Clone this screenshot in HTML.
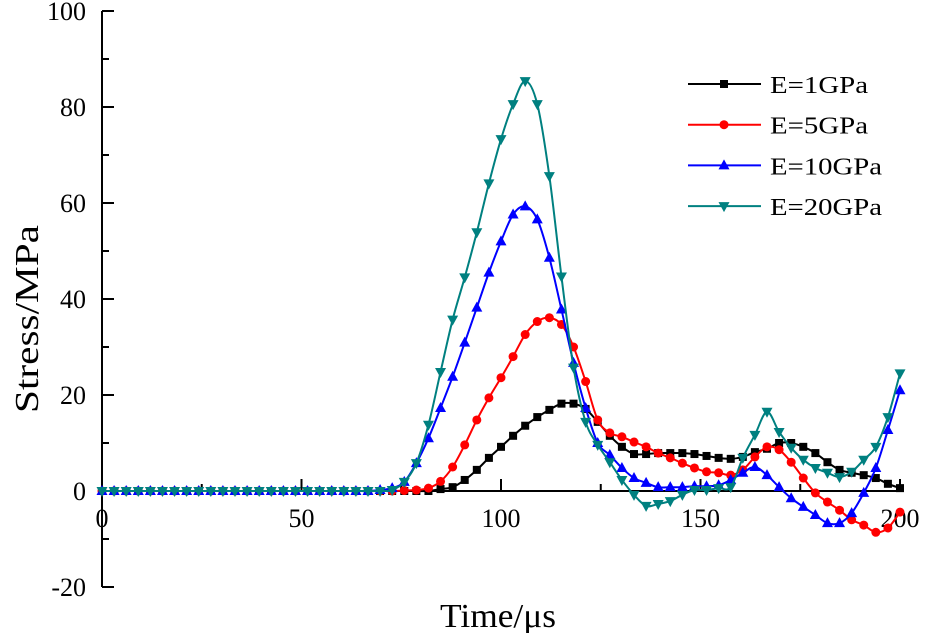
<!DOCTYPE html>
<html><head><meta charset="utf-8"><style>
body{margin:0;background:#fff}
svg{display:block}
text{font-family:"Liberation Serif","DejaVu Serif",serif}
</style></head><body>
<svg id="chart" width="925" height="633" viewBox="0 0 925 633">
<g id="axes"></g>
<g id="series"></g>
<g id="legend"></g>
<text x="38" y="319" font-size="34" text-anchor="middle" textLength="188" lengthAdjust="spacingAndGlyphs" transform="rotate(-90 38 319)">Stress/MPa</text>
<text x="498" y="627" font-size="34" text-anchor="middle" textLength="116" lengthAdjust="spacingAndGlyphs">Time/μs</text>
</svg>
<script>
const xTicks=[0,50,100,150,200];
const yTicks=[-20,0,20,40,60,80,100];
const seriesNames=["E=1GPa","E=5GPa","E=10GPa","E=20GPa"];
const nPoints=67;
const zeros23=[0,0,0,0,0,0,0,0,0,0,0,0,0,0,0,0,0,0,0,0,0,0,0];
const e1=zeros23.concat([0,0,0,0,0,0.4,0.8,2.3,4.4,6.9,9.2,11.5,13.6,15.4,16.9,18.2,18.2,17.1,14.4,11.5,9.2,7.7,7.7,7.9,7.9,7.9,7.7,7.3,6.9,6.7,7.1,8.1,8.8,10,10,9.2,7.9,6,4.4,3.8,3.3,2.7,1.5,0.6]);
const e5=zeros23.concat([0,0,0.1,0.2,0.6,2,5,9.6,14.8,19.4,23.6,28,32.6,35.3,36.1,34.7,30,22.8,14.8,12.1,11.3,10.2,9.2,7.9,6.9,5.8,4.8,4,3.8,3.3,4.4,7.1,9.2,8.6,6,2.7,-0.4,-2.3,-4,-6,-7.1,-8.6,-7.7,-4.4]);
const e10=zeros23.concat([0.2,0.6,1.9,5.8,11,17.3,23.8,30.9,38.2,45.5,52,57.6,59.3,56.6,48.6,37.8,26.7,17.3,10,7.5,4.8,2.7,1.7,0.8,0.8,0.8,1,1,1.2,2.3,3.8,5,3.3,0.8,-1.5,-3.3,-5,-6.7,-6.7,-4.6,-0.4,4.8,12.7,21]);
const e20=zeros23.concat([0,0.2,1.9,5.8,13.8,24.8,35.7,44.5,53.9,64.1,73.3,80.6,85.4,80.6,65.6,44.7,25.7,14.4,9.6,6,2.3,-0.8,-3.1,-2.7,-2.1,-0.8,0.2,0.2,0.6,0.8,6.9,11.7,16.5,12.3,9,6.5,4.8,3.8,2.9,4,6.5,9.2,15.4,24.5]);
const times=[];for(let k=0;k<nPoints;k++)times.push(k*200/(nPoints-1));
const NS="http://www.w3.org/2000/svg";
const X=t=>102+t*(900-102)/200;
const Y=v=>491-v*4.8;
function mk(tag,attrs,parent){const e=document.createElementNS(NS,tag);for(const k in attrs)e.setAttribute(k,attrs[k]);parent.appendChild(e);return e;}
const axes=document.getElementById('axes');
let el=mk('line',{x1:102,y1:Y(-20),x2:102,y2:Y(100),stroke:'#000','stroke-width':2},axes);

el=mk('line',{x1:102,y1:Y(0),x2:902,y2:Y(0),stroke:'#000','stroke-width':2},axes);

for(let v=-20;v<=100;v+=10){const major=v%20===0;
el=mk('line',{x1:102,y1:Y(v),x2:102+(major?12:7),y2:Y(v),stroke:'#000','stroke-width':2},axes);
}
yTicks.forEach(v=>{el=mk('text',{x:86,y:Y(v)+9,'font-size':26,'text-anchor':'end'},axes);el.textContent=v;
});
for(let t=0;t<=200;t+=25){const major=t%50===0;
el=mk('line',{x1:X(t),y1:Y(0),x2:X(t),y2:Y(0)-(major?12:7),stroke:'#000','stroke-width':2},axes);
}
xTicks.forEach(t=>{el=mk('text',{x:X(t),y:527,'font-size':26,'text-anchor':'middle'},axes);el.textContent=t;
});
const colors=['#000000','#ff0000','#0000ff','#008080'];
const shapes=['square','circle','up','down'];
const data=[e1,e5,e10,e20];
function marker(shape,x,y,c,parent){let m;
if(shape==='square')m=mk('rect',{x:x-4,y:y-4,width:8,height:8,fill:c},parent);
else if(shape==='circle')m=mk('circle',{cx:x,cy:y,r:4.5,fill:c},parent);
else if(shape==='up')m=mk('polygon',{points:`${x},${y-6} ${x-5.5},${y+4} ${x+5.5},${y+4}`,fill:c},parent);
else m=mk('polygon',{points:`${x-5.5},${y-4} ${x+5.5},${y-4} ${x},${y+6}`,fill:c},parent);
return m;}
const sg=document.getElementById('series');
data.forEach((vals,i)=>{
const g=mk('g',{},sg);


const pts=vals.map((v,k)=>[X(times[k]),Y(v)]);
let d=`M${pts[0][0]},${pts[0][1]}`;
for(let k=0;k<pts.length-1;k++){const p0=pts[Math.max(0,k-1)],p1=pts[k],p2=pts[k+1],p3=pts[Math.min(pts.length-1,k+2)];
d+=` C${p1[0]+(p2[0]-p0[0])/6},${p1[1]+(p2[1]-p0[1])/6} ${p2[0]-(p3[0]-p1[0])/6},${p2[1]-(p3[1]-p1[1])/6} ${p2[0]},${p2[1]}`;}
const line=mk('path',{d:d,fill:'none',stroke:colors[i],'stroke-width':2},g);


pts.forEach(p=>{const m=marker(shapes[i],p[0],p[1],colors[i],g);

});
});
const lg=document.getElementById('legend');
seriesNames.forEach((n,i)=>{const y=84+i*40.7;
const g=mk('g',{},lg);


mk('line',{x1:688,y1:y,x2:761,y2:y,stroke:colors[i],'stroke-width':2},g);
marker(shapes[i],724,y,colors[i],g);
const t=mk('text',{x:770,y:y+9,'font-size':24,textLength:(n.length>6?112:98),lengthAdjust:'spacingAndGlyphs'},g);t.textContent=n;});
</script>
</body></html>
